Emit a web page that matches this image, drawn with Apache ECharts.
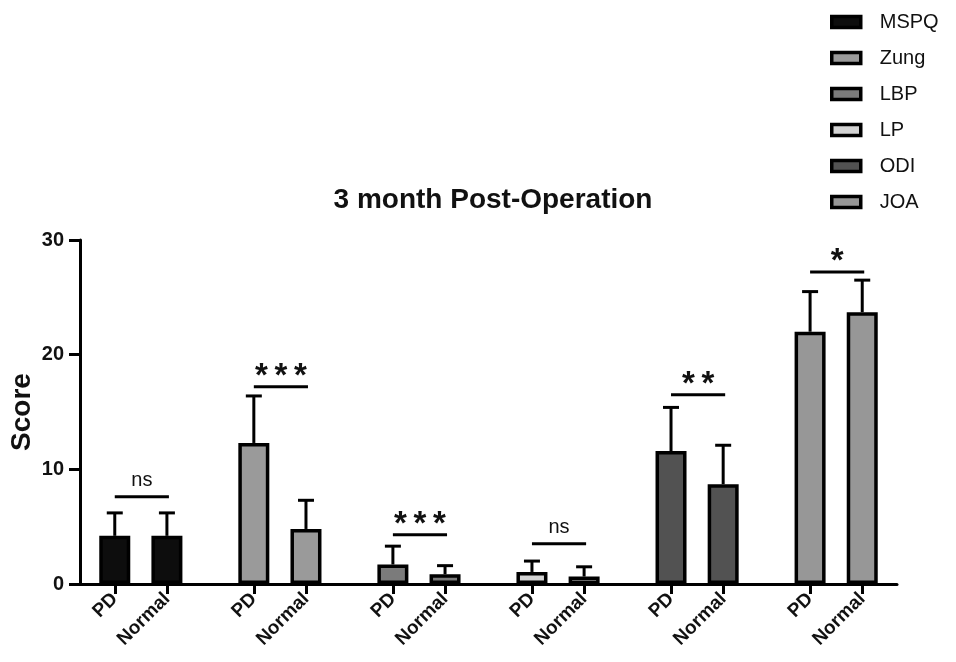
<!DOCTYPE html>
<html>
<head>
<meta charset="utf-8">
<script src="https://cdn.jsdelivr.net/npm/echarts@6/dist/echarts.min.js"></script>
<style>html,body{margin:0;padding:0;background:#fff;}#chart{width:956px;height:662px;}</style>
</head>
<body>
<div id="chart"></div>
<script>
// ---- data ----
const groups = ['MSPQ', 'Zung', 'LBP', 'LP', 'ODI', 'JOA'];
const groupColors = ['#0d0d0d', '#9a9a9a', '#7b7b7b', '#d3d3d3', '#525252', '#979797'];
const tickLabels = ['PD', 'Normal'];
const pdMean = [4.2, 12.3, 1.7, 1.05, 11.6, 22.0];
const normalMean = [4.2, 4.8, 0.85, 0.65, 8.7, 23.7];
const pdSD = [2.0, 4.1, 1.6, 0.95, 3.8, 3.5];
const normalSD = [2.0, 2.5, 0.75, 0.85, 3.4, 2.8];
const sigLabels = ['ns', '***', '***', 'ns', '**', '*'];
const sigHeights = [7.6, 17.2, 4.3, 3.5, 16.5, 27.2];
const yMin = 0, yMax = 30, yInterval = 10;

// ---- category slots (blank slots give the gaps between groups) ----
const SLOTS = 8, PD_SLOT = 2, N_SLOT = 5;
const categories = [];
groups.forEach(() => {
  for (let s = 0; s < SLOTS; s++) {
    categories.push(s === PD_SLOT ? tickLabels[0] : (s === N_SLOT ? tickLabels[1] : ''));
  }
});
const pdIdx = g => g * SLOTS + PD_SLOT;
const nIdx = g => g * SLOTS + N_SLOT;

const FONT = '"Liberation Sans", Arial, sans-serif';

const barSeries = groups.map((name, g) => {
  const data = categories.map(() => '-');
  data[pdIdx(g)] = pdMean[g];
  data[nIdx(g)] = normalMean[g];
  return {
    name: name,
    type: 'bar',
    barWidth: 31,
    barGap: '-100%',
    data: data,
    itemStyle: { color: groupColors[g], borderColor: '#000', borderWidth: 3.5 },
    z: 2
  };
});

const errData = [];
groups.forEach((_, g) => {
  errData.push([pdIdx(g), pdMean[g], pdSD[g]]);
  errData.push([nIdx(g), normalMean[g], normalSD[g]]);
});

const sigData = groups.map((_, g) => [pdIdx(g), sigHeights[g], nIdx(g)]);

const chart = echarts.init(document.getElementById('chart'));
chart.setOption({
  backgroundColor: '#fff',
  animation: false,
  title: {
    text: '3 month Post-Operation',
    left: 488,
    textAlign: 'center',
    top: 181,
    textStyle: { fontFamily: FONT, fontWeight: 'bold', fontSize: 28, color: '#111' }
  },
  legend: {
    data: groups,
    orient: 'vertical',
    left: 830,
    top: 12,
    padding: 0,
    itemWidth: 29,
    itemHeight: 11,
    itemGap: 16,
    icon: 'rect',
    itemStyle: { borderColor: '#000', borderWidth: 3.5 },
    textStyle: { fontFamily: FONT, fontSize: 20, color: '#111', lineHeight: 20, padding: [0, 0, 0, 14] }
  },
  grid: { left: 80, right: 59, top: 240, bottom: 78, containLabel: false, outerBoundsMode: 'none' },
  xAxis: {
    type: 'category',
    data: categories,
    boundaryGap: false,
    axisLine: { lineStyle: { color: '#000', width: 3 } },
    axisTick: {
      show: true, length: 10, lineStyle: { color: '#000', width: 3 },
      interval: (i, v) => v !== ''
    },
    axisLabel: {
      interval: (i, v) => v !== '',
      rotate: 45, margin: 12,
      fontFamily: FONT, fontWeight: 'bold', fontSize: 19, color: '#111'
    },
    splitLine: { show: false }
  },
  yAxis: {
    type: 'value',
    min: yMin, max: yMax, interval: yInterval,
    name: 'Score',
    nameLocation: 'middle',
    nameRotate: 90,
    nameGap: 44,
    nameMoveOverlap: false,
    nameTextStyle: { fontFamily: FONT, fontWeight: 'bold', fontSize: 28, color: '#111' },
    axisLine: { show: true, lineStyle: { color: '#000', width: 3 } },
    axisTick: { show: true, length: 11, lineStyle: { color: '#000', width: 3 } },
    axisLabel: { margin: 16, fontFamily: FONT, fontWeight: 'bold', fontSize: 20, color: '#111' },
    splitLine: { show: false }
  },
  series: barSeries.concat([
    {
      name: 'errors',
      type: 'custom',
      data: errData,
      z: 3,
      silent: true,
      renderItem: (params, api) => {
        const x = api.value(0), m = api.value(1), s = api.value(2);
        const base = api.coord([x, m]);
        const top = api.coord([x, m + s]);
        const half = 8;
        return {
          type: 'group',
          children: [
            { type: 'line', shape: { x1: base[0], y1: base[1], x2: top[0], y2: top[1] }, style: { stroke: '#000', lineWidth: 3 } },
            { type: 'line', shape: { x1: top[0] - half, y1: top[1], x2: top[0] + half, y2: top[1] }, style: { stroke: '#000', lineWidth: 3 } }
          ]
        };
      }
    },
    {
      name: 'sig',
      type: 'custom',
      data: sigData,
      z: 3,
      silent: true,
      renderItem: (params, api) => {
        const a = api.value(0), h = api.value(1), b = api.value(2);
        const p1 = api.coord([a, h]);
        const p2 = api.coord([b, h]);
        const label = sigLabels[params.dataIndex];
        const isStar = label.indexOf('*') >= 0;
        return {
          type: 'group',
          children: [
            { type: 'line', shape: { x1: p1[0], y1: p1[1], x2: p2[0] + 2, y2: p2[1] }, style: { stroke: '#000', lineWidth: 3 } },
            {
              type: 'text',
              style: {
                text: isStar ? label.split('').join('\u2009') : label,
                x: (p1[0] + p2[0]) / 2 + 1,
                y: isStar ? p1[1] - 10 : p1[1] - 16,
                align: 'center',
                verticalAlign: 'middle',
                fontFamily: FONT,
                fontWeight: isStar ? 'bold' : 'normal',
                fontSize: isStar ? 33 : 20,
                fill: '#111'
              }
            }
          ]
        };
      }
    }
  ])
});
</script>
</body>
</html>
